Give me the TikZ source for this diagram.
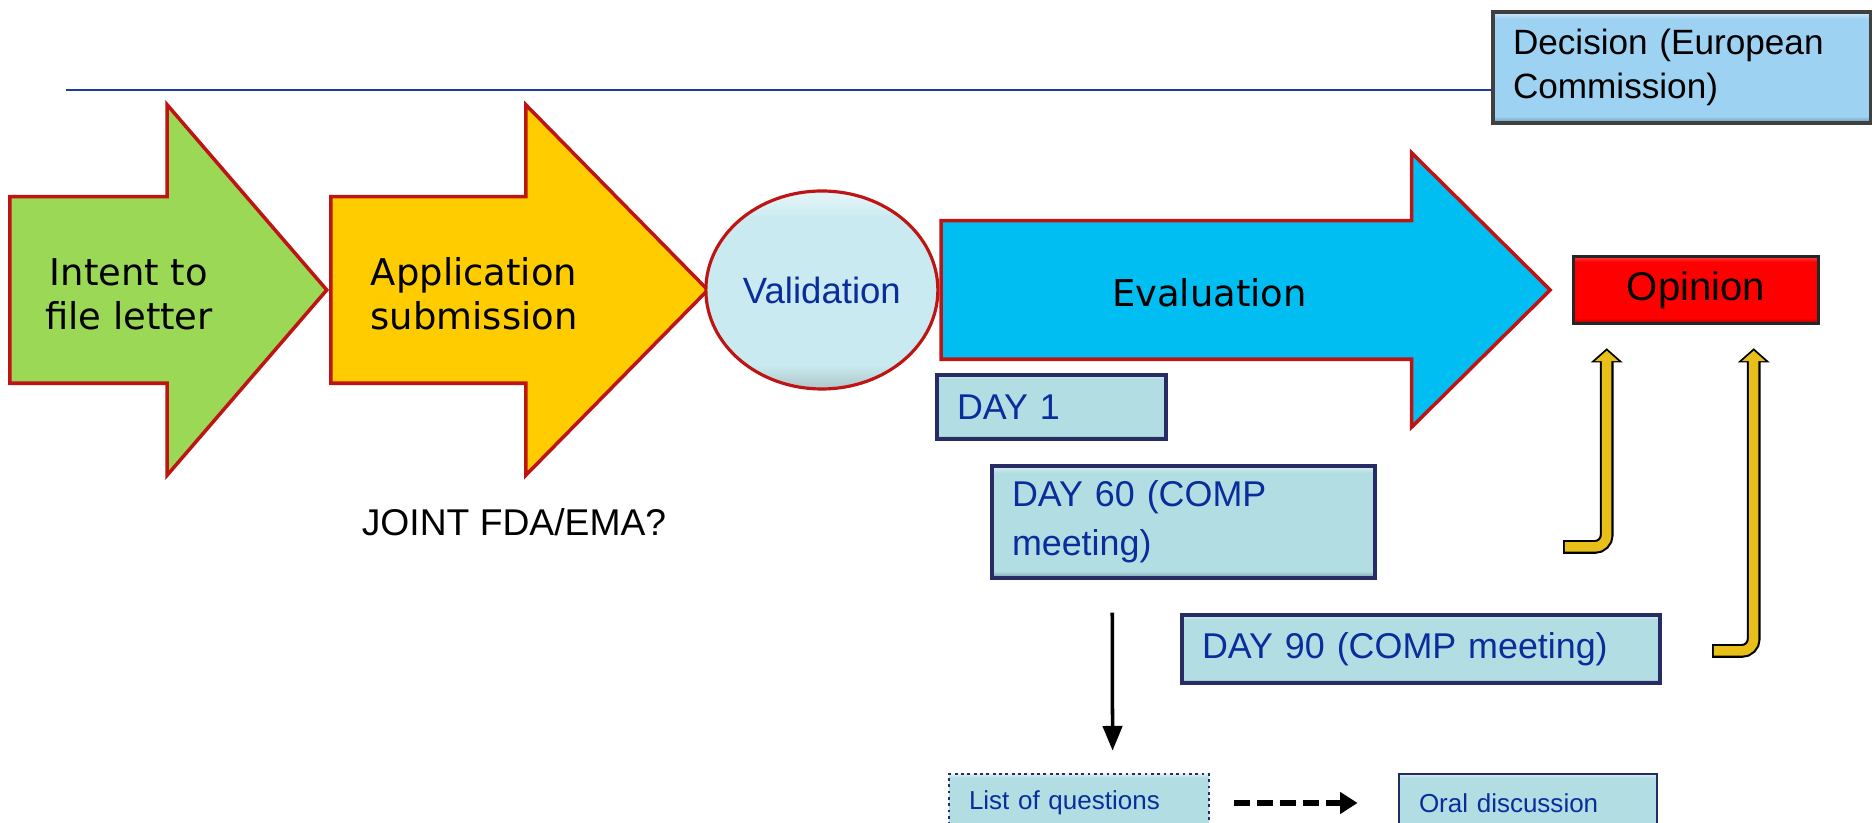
\documentclass[tikz,border=0pt]{standalone}
\usepackage{fontspec}
\setmainfont{Liberation Sans}
\newfontfamily\widefont{DejaVu Sans}
\usetikzlibrary{shapes.arrows,shapes.geometric,positioning,calc,arrows.meta}
\definecolor{arrowgreen}{RGB}{155,216,85}
\definecolor{arrowyellow}{RGB}{255,204,0}
\definecolor{arrowblue}{RGB}{0,190,242}
\definecolor{arrowrim}{RGB}{190,20,20}
\definecolor{valfill}{RGB}{200,234,240}
\definecolor{dayfill}{RGB}{178,222,227}
\definecolor{dayrim}{RGB}{40,44,100}
\definecolor{daytext}{RGB}{10,45,155}
\definecolor{decfill}{RGB}{157,210,242}
\definecolor{goldarrow}{RGB}{232,190,24}
\definecolor{ruleblue}{RGB}{30,60,160}
% bevelled look of the boxes: dark band at the bottom, light band on top
\pgfdeclareverticalshading{daybevel}{100bp}{color(0bp)=(dayfill!70!black); color(25bp)=(dayfill!70!black);
  color(28bp)=(dayfill); color(72bp)=(dayfill); color(75bp)=(dayfill!45!white); color(100bp)=(dayfill!45!white)}
\pgfdeclareverticalshading{decbevel}{100bp}{color(0bp)=(decfill!70!black); color(25bp)=(decfill!70!black);
  color(28bp)=(decfill); color(72bp)=(decfill); color(75bp)=(decfill!45!white); color(100bp)=(decfill!45!white)}
\pgfdeclareverticalshading{redbevel}{100bp}{color(0bp)=(red!60!black); color(25bp)=(red!60!black);
  color(29bp)=(red); color(71bp)=(red); color(75bp)=(red!75!white); color(100bp)=(red!75!white)}
\pgfdeclareverticalshading{valbevel}{100bp}{color(0bp)=(valfill!65!gray); color(25bp)=(valfill!65!gray);
  color(31bp)=(valfill); color(68bp)=(valfill); color(75bp)=(valfill!40!white); color(100bp)=(valfill!40!white)}
\tikzset{
  stage/.style={ % big step arrow of the procedure
    single arrow, draw=arrowrim, line width=1pt,
    anchor=tail, inner xsep=0pt, inner ysep=0.915cm,
    text height=0pt, text depth=0pt,
    single arrow head extend=0.92cm, minimum width=3.67cm
  },
  stagetext/.style={ % label lying on a step arrow
    align=center, text=black, inner sep=0pt,
    font=\widefont\fontsize{10.5pt}{12.5pt}\selectfont
  },
  valstage/.style={ % the validation bubble
    ellipse, draw=arrowrim, line width=0.9pt, shading=valbevel,
    minimum width=2.32cm, minimum height=1.98cm, inner sep=0pt,
    text=daytext, font=\fontsize{10.4pt}{12pt}\selectfont
  },
  daybox/.style={ % milestone of the evaluation
    rectangle, draw=dayrim, line width=1pt, shading=daybevel,
    inner xsep=0.2cm, align=left, text=daytext,
    font=\fontsize{10.2pt}{14pt}\selectfont
  },
  smallbox/.style={ % the two boxes at the bottom
    rectangle, draw=dayrim, line width=0.8pt, shading=daybevel,
    inner xsep=0.2cm, minimum height=0.58cm, align=left, text=daytext,
    font=\fontsize{7.4pt}{9pt}\selectfont
  },
  opinionbox/.style={
    rectangle, draw=black!85, line width=1pt, shading=redbevel,
    minimum width=2.45cm, minimum height=0.67cm,
    font=\fontsize{11.4pt}{13pt}\selectfont
  },
  decisionbox/.style={
    rectangle, draw=black!75, line width=1pt, shading=decbevel,
    inner xsep=0.2cm, text width=3.38cm, minimum height=1.11cm, align=left,
    font=\fontsize{10pt}{12.3pt}\selectfont
  },
  plaintext/.style={font=\fontsize{10.6pt}{12pt}\selectfont},
  topline/.style={draw=ruleblue, line width=0.7pt},
  downarrow/.style={line width=1pt, -{Triangle[width=5.5pt,length=7pt]}},
  dasharrow/.style={line width=1.7pt, dash pattern=on 4.5pt off 2pt,
    -{Triangle[width=6pt,length=5pt]}},
  goldpipe/.style={ % bent gold arrow up to the opinion
    draw=goldarrow, line width=2.7pt, rounded corners=0.12cm,
    -{Triangle[width=6.6pt,length=3pt]}, shorten >=0.7pt, shorten <=0.5pt,
    preaction={draw=black, line width=3.9pt,
      -{Triangle[width=8.8pt,length=4pt]}, shorten >=0pt, shorten <=0pt}
  }
}
\begin{document}
\begin{tikzpicture}
  \useasboundingbox (0,0) rectangle (18.72,8.23);

  \node[stage, fill=arrowgreen, minimum height=3.17cm, single arrow tip angle=98.5] (intent) at (0.08,5.33) {};
  \node[stage, fill=arrowyellow, minimum height=3.77cm, single arrow tip angle=91] (application) at (intent.tip) {};
  \node[valstage, right=-0.06cm of application.tip] (validation) {Validation};
  \node[stage, fill=arrowblue, inner ysep=0.675cm, single arrow head extend=0.68cm, minimum width=2.71cm,
        minimum height=6.09cm, single arrow tip angle=89.4] (evaluation) at (validation.east) {};
  \node[stagetext] (intent_text) at ($(intent.tail)+(1.21,-0.04)$) {Intent to\\file letter};
  \node[stagetext] (application_text) at ($(application.tail)+(1.45,-0.04)$) {Application\\submission};
  \node[stagetext] (evaluation_text) at ($(evaluation.tail)+(2.70,-0.03)$) {Evaluation};
  \node[opinionbox, right=0.19cm of evaluation.tip] (opinion) {Opinion};

  \node[decisionbox] (decision) at (16.82,7.555) {Decision (European\\Commission)};
  \coordinate (rule_start) at (0.66,7.33);
  \draw[topline] (rule_start) -- (rule_start -| decision.west);

  \node[daybox, text width=1.89cm, minimum height=0.64cm] (day1) at (10.515,4.16) {DAY 1};
  \node[daybox, text width=3.43cm, minimum height=1.12cm] (day60) at (11.835,3.01) {DAY 60 (COMP\\meeting)};
  \node[daybox, text width=4.38cm, minimum height=0.68cm] (day90) at (14.21,1.74) {DAY 90 (COMP meeting)};
  \node[smallbox, densely dotted, text width=2.20cm] (questions) at (10.79,0.20) {List of questions};
  \node[smallbox, text width=2.18cm] (oral) at (15.28,0.20) {Oral discussion};
  \node[plaintext] (joint) at (5.14,3.01) {JOINT FDA/EMA?};

  \draw[downarrow] ($(day60.south west)+(1.22,-0.33)$) -- ($(questions.north west)+(1.65,0.22)$);
  \draw[dasharrow] ([xshift=0.24cm]questions.east) -- ([xshift=-0.40cm]oral.west);

  \coordinate (foot60) at (15.63,2.76);
  \coordinate (foot90) at (17.12,1.72);
  \draw[goldpipe] (foot60) -| ($(opinion.south west)+(0.35,-0.23)$);
  \draw[goldpipe] (foot90) -| ($(opinion.south west)+(1.82,-0.23)$);
\end{tikzpicture}
\end{document}
